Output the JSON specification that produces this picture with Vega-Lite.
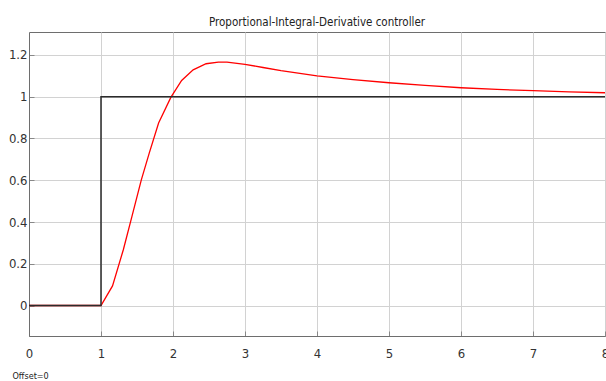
{
  "$schema": "https://vega.github.io/schema/vega-lite/v6.json",
  "width": 576,
  "height": 304,
  "autosize": {"type": "none"},
  "padding": {"left": 29, "top": 32, "right": 1, "bottom": 45},
  "background": "white",
  "title": {
    "text": "Proportional-Integral-Derivative controller",
    "anchor": "middle",
    "offset": 4,
    "fontSize": 11.5,
    "fontWeight": "normal",
    "font": "DejaVu Sans Condensed, sans-serif",
    "color": "#222"
  },
  "config": {
    "view": {"stroke": "#6e6e6e", "strokeWidth": 1},
    "axis": {
      "labelFont": "DejaVu Sans Condensed, sans-serif",
      "labelFontSize": 13,
      "labelColor": "#333",
      "labelFlush": false,
      "domainColor": "#6e6e6e",
      "gridColor": "#d2d2d2",
      "gridWidth": 1,
      "tickColor": "#888",
      "tickSize": -5
    }
  },
  "datasets": {
    "response": [
      {"t": 0, "v": 0},
      {"t": 1, "v": 0},
      {"t": 1.16, "v": 0.094},
      {"t": 1.31, "v": 0.267},
      {"t": 1.43, "v": 0.427},
      {"t": 1.56, "v": 0.602},
      {"t": 1.67, "v": 0.73},
      {"t": 1.8, "v": 0.874},
      {"t": 1.97, "v": 0.997},
      {"t": 2.12, "v": 1.078},
      {"t": 2.28, "v": 1.129},
      {"t": 2.46, "v": 1.158},
      {"t": 2.63, "v": 1.166},
      {"t": 2.75, "v": 1.166},
      {"t": 3.0, "v": 1.155},
      {"t": 3.25, "v": 1.14},
      {"t": 3.5, "v": 1.125},
      {"t": 4.0, "v": 1.1},
      {"t": 4.5, "v": 1.082},
      {"t": 5.0, "v": 1.067},
      {"t": 5.5, "v": 1.054},
      {"t": 6.0, "v": 1.043},
      {"t": 6.5, "v": 1.035},
      {"t": 7.0, "v": 1.029},
      {"t": 7.5, "v": 1.023},
      {"t": 8.0, "v": 1.019}
    ],
    "setpoint": [
      {"i": 0, "t": 0, "v": 0},
      {"i": 1, "t": 1, "v": 0},
      {"i": 2, "t": 1, "v": 1},
      {"i": 3, "t": 8, "v": 1}
    ]
  },
  "encoding": {
    "x": {
      "field": "t",
      "type": "quantitative",
      "scale": {"domain": [0, 8], "nice": false, "zero": false},
      "axis": {
        "values": [0, 1, 2, 3, 4, 5, 6, 7, 8],
        "labelPadding": 16,
        "title": "Offset=0",
        "titleFont": "DejaVu Sans Condensed, sans-serif",
        "titleFontSize": 9,
        "titleFontWeight": "normal",
        "titleColor": "#222",
        "titleAlign": "left",
        "titleBaseline": "bottom",
        "titleX": -17,
        "titleY": 44
      }
    },
    "y": {
      "field": "v",
      "type": "quantitative",
      "scale": {"domain": [-0.146, 1.31], "nice": false, "zero": false},
      "axis": {
        "values": [0, 0.2, 0.4, 0.6, 0.8, 1, 1.2],
        "format": "~g",
        "labelPadding": 7,
        "title": null
      }
    }
  },
  "layer": [
    {
      "data": {"name": "response"},
      "mark": {"type": "line", "color": "#ff0000", "strokeWidth": 1.3, "clip": true}
    },
    {
      "data": {"name": "setpoint"},
      "mark": {"type": "line", "color": "#2b2b2b", "strokeWidth": 1.5, "clip": true},
      "encoding": {"order": {"field": "i", "type": "quantitative"}}
    }
  ]
}
